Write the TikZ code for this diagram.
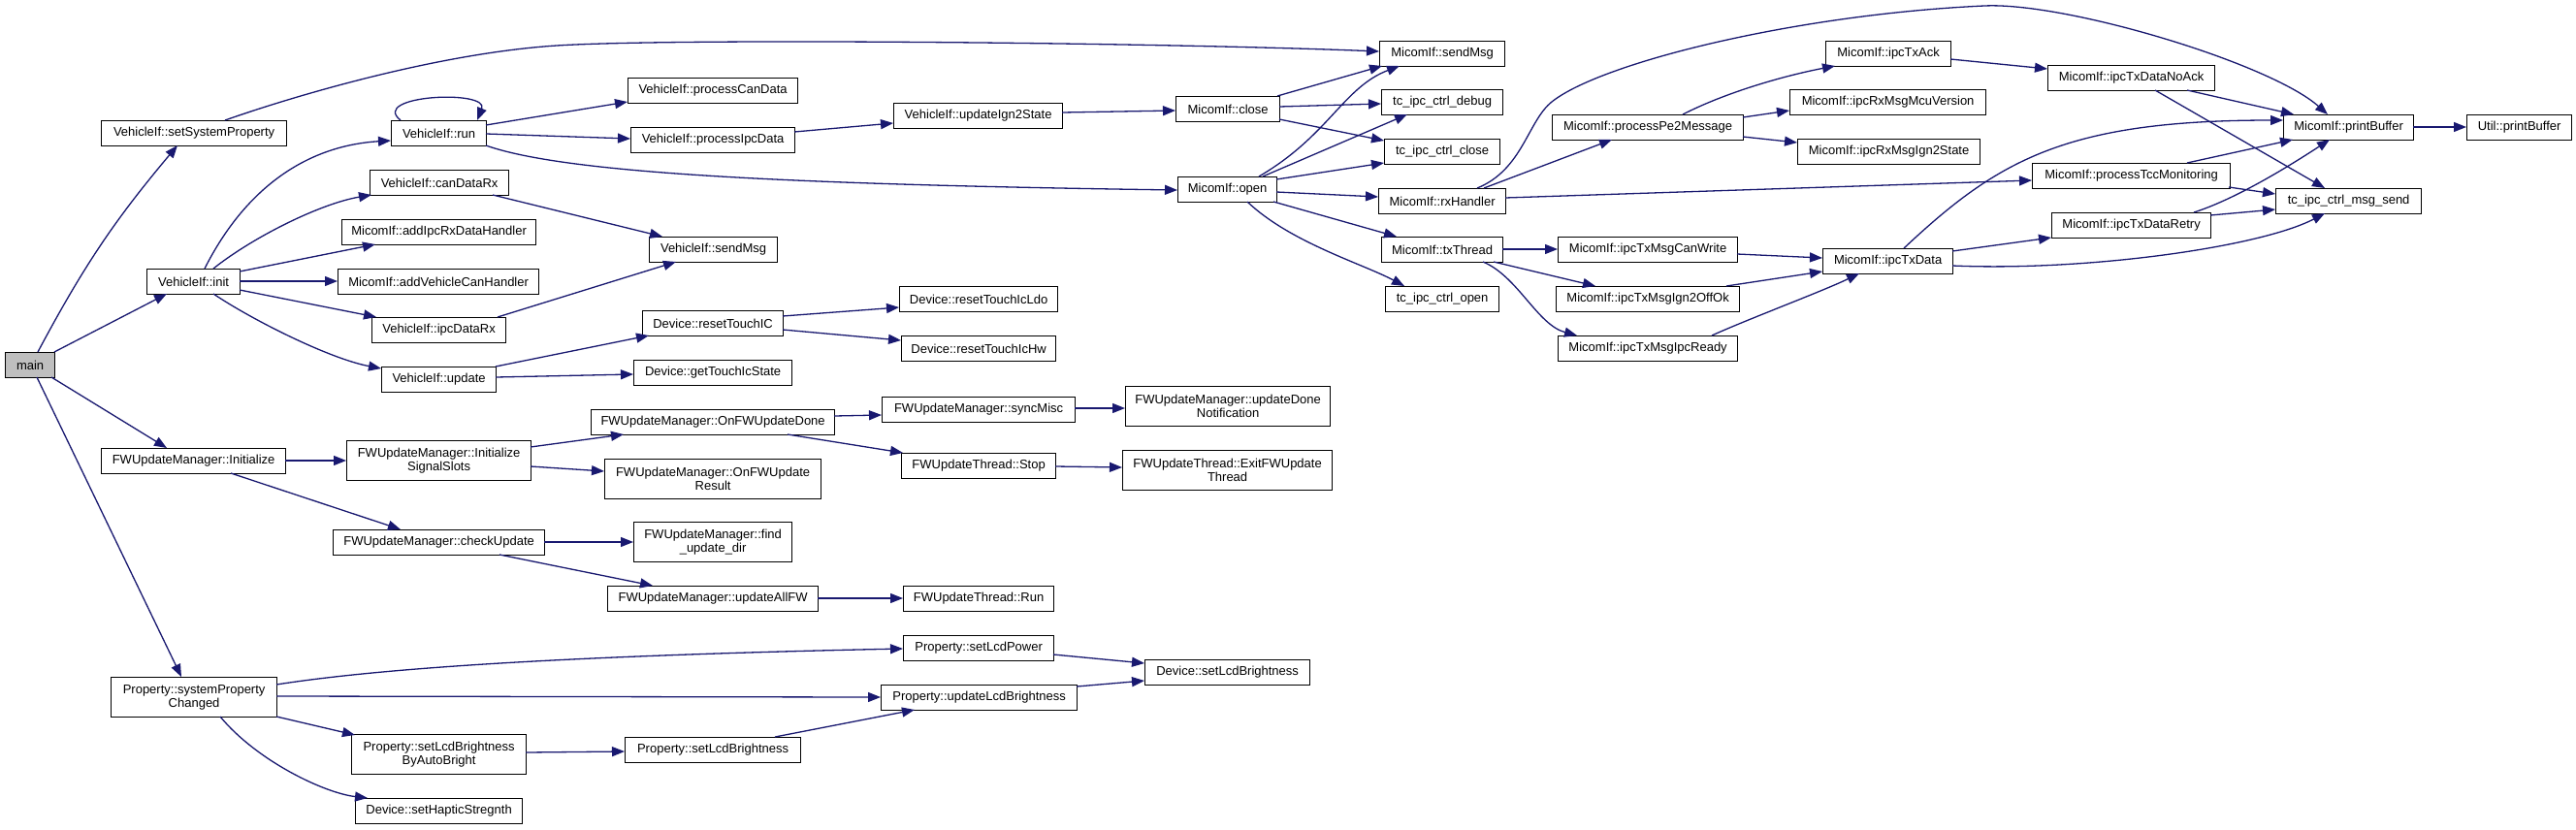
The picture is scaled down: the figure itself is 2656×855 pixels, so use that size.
\documentclass[tikz,border=0pt]{standalone}
\usepackage{fontspec}
\setmainfont{Liberation Sans}
\usetikzlibrary{arrows.meta,calc}
\definecolor{edgeblue}{HTML}{191970}
\definecolor{maingray}{HTML}{BFBFBF}
\begin{document}
\begin{tikzpicture}[x=1pt,y=-1pt,
  box/.style={draw=black, line width=1.2pt, fill=white, rectangle, anchor=north west,
    inner sep=0pt, align=center, minimum height=26pt, font=\fontsize{13}{14}\selectfont},
  tall/.style={minimum height=41pt},
  call/.style={draw=edgeblue, line width=1.3pt, -{Triangle[length=13pt,width=10pt]}}]
\path[fill=white, use as bounding box] (0,0) rectangle (2656,855);

% rank 0-1
\node[box,fill=maingray,minimum width=51pt] (main) at (5,363) {main};
\node[box,minimum width=191pt] (setSys) at (104,124) {VehicleIf::setSystemProperty};
\node[box,minimum width=96pt] (init) at (151,277) {VehicleIf::init};
\node[box,minimum width=190pt] (fwInit) at (104,462) {FWUpdateManager::Initialize};
\node[box,tall,minimum width=171pt] (propSPC) at (114,698) {Property::systemProperty\\Changed};
% rank 2
\node[box,minimum width=98pt] (run) at (403,124) {VehicleIf::run};
\node[box,minimum width=143pt] (canDataRx) at (381,175) {VehicleIf::canDataRx};
\node[box,minimum width=200pt] (addIpc) at (352,226) {MicomIf::addIpcRxDataHandler};
\node[box,minimum width=207pt] (addCan) at (348,277) {MicomIf::addVehicleCanHandler};
\node[box,minimum width=138pt] (ipcDataRx) at (383,327) {VehicleIf::ipcDataRx};
\node[box,minimum width=118pt] (update) at (393,378) {VehicleIf::update};
\node[box,tall,minimum width=190pt] (sigSlots) at (357,454) {FWUpdateManager::Initialize\\SignalSlots};
\node[box,minimum width=218pt] (checkUpdate) at (343,546) {FWUpdateManager::checkUpdate};
\node[box,tall,minimum width=180pt] (autoBright) at (362,757) {Property::setLcdBrightness\\ByAutoBright};
\node[box,minimum width=172pt] (haptic) at (366,823) {Device::setHapticStregnth};
% rank 3
\node[box,minimum width=175pt] (procCan) at (647,80) {VehicleIf::processCanData};
\node[box,minimum width=169pt] (procIpc) at (650,131) {VehicleIf::processIpcData};
\node[box,minimum width=132pt] (vSendMsg) at (669,244) {VehicleIf::sendMsg};
\node[box,minimum width=145pt] (resetTouchIC) at (662,320) {Device::resetTouchIC};
\node[box,minimum width=163pt] (getTouch) at (653,371) {Device::getTouchIcState};
\node[box,minimum width=251pt] (onDone) at (609,422) {FWUpdateManager::OnFWUpdateDone};
\node[box,tall,minimum width=223pt] (onResult) at (623,473) {FWUpdateManager::OnFWUpdate\\Result};
\node[box,tall,minimum width=163pt] (findDir) at (653,538) {FWUpdateManager::find\\\_update\_dir};
\node[box,minimum width=217pt] (updateAllFW) at (626,604) {FWUpdateManager::updateAllFW};
\node[box,minimum width=181pt] (propSetLcd) at (644,760) {Property::setLcdBrightness};
% rank 4
\node[box,minimum width=174pt] (updIgn2) at (921,106) {VehicleIf::updateIgn2State};
\node[box,minimum width=163pt] (ldo) at (927,295) {Device::resetTouchIcLdo};
\node[box,minimum width=159pt] (hw) at (929,346) {Device::resetTouchIcHw};
\node[box,minimum width=199pt] (syncMisc) at (909,409) {FWUpdateManager::syncMisc};
\node[box,minimum width=159pt] (stop) at (929,467) {FWUpdateThread::Stop};
\node[box,minimum width=155pt] (fwRun) at (931,604) {FWUpdateThread::Run};
\node[box,minimum width=155pt] (lcdPower) at (931,655) {Property::setLcdPower};
\node[box,minimum width=202pt] (updLcd) at (908,706) {Property::updateLcdBrightness};
% rank 5
\node[box,minimum width=107pt] (close) at (1212,99) {MicomIf::close};
\node[box,minimum width=102pt] (open) at (1214,182) {MicomIf::open};
\node[box,tall,minimum width=211pt] (doneNotif) at (1160,398) {FWUpdateManager::updateDone\\Notification};
\node[box,tall,minimum width=216pt] (exitThread) at (1157,464) {FWUpdateThread::ExitFWUpdate\\Thread};
\node[box,minimum width=170pt] (devSetLcd) at (1180,680) {Device::setLcdBrightness};
% rank 6
\node[box,minimum width=129pt] (mSendMsg) at (1422,42) {MicomIf::sendMsg};
\node[box,minimum width=125pt] (debug) at (1424,92) {tc\_ipc\_ctrl\_debug};
\node[box,minimum width=119pt] (tclose) at (1427,143) {tc\_ipc\_ctrl\_close};
\node[box,minimum width=131pt] (rxHandler) at (1421,194) {MicomIf::rxHandler};
\node[box,minimum width=125pt] (txThread) at (1424,244) {MicomIf::txThread};
\node[box,minimum width=117pt] (topen) at (1428,295) {tc\_ipc\_ctrl\_open};
% rank 7
\node[box,minimum width=197pt] (pe2) at (1600,118) {MicomIf::processPe2Message};
\node[box,minimum width=185pt] (canWrite) at (1606,244) {MicomIf::ipcTxMsgCanWrite};
\node[box,minimum width=189pt] (ign2Off) at (1604,295) {MicomIf::ipcTxMsgIgn2OffOk};
\node[box,minimum width=185pt] (ipcReady) at (1606,346) {MicomIf::ipcTxMsgIpcReady};
% rank 8
\node[box,minimum width=129pt] (txAck) at (1882,42) {MicomIf::ipcTxAck};
\node[box,minimum width=202pt] (mcuVer) at (1845,92) {MicomIf::ipcRxMsgMcuVersion};
\node[box,minimum width=188pt] (rxIgn2) at (1853,143) {MicomIf::ipcRxMsgIgn2State};
\node[box,minimum width=134pt] (txData) at (1879,256) {MicomIf::ipcTxData};
% rank 9
\node[box,minimum width=172pt] (noAck) at (2111,67) {MicomIf::ipcTxDataNoAck};
\node[box,minimum width=204pt] (tcc) at (2095,168) {MicomIf::processTccMonitoring};
\node[box,minimum width=164pt] (retry) at (2115,219) {MicomIf::ipcTxDataRetry};
% rank 10-11
\node[box,minimum width=134pt] (pbuf) at (2354,118) {MicomIf::printBuffer};
\node[box,minimum width=150pt] (msgSend) at (2346,194) {tc\_ipc\_ctrl\_msg\_send};
\node[box,minimum width=108pt] (util) at (2543,118) {Util::printBuffer};

% edges
\draw[call] ($(main.north west)+(34,0)$) to[bend left=6] ($(setSys.north west)+(79,26)$);
\draw[call] ($(main.north west)+(51,0)$) -- ($(init.north west)+(21,26)$);
\draw[call] ($(main.north west)+(48,26)$) -- ($(fwInit.north west)+(68,0)$);
\draw[call] ($(main.north west)+(33,26)$) -- ($(propSPC.north west)+(73,0)$);
\draw[call] ($(setSys.north west)+(128,0)$) .. controls (300,100) and (450,55) .. (574,47) .. controls (700,39) and (1200,44) .. ($(mSendMsg.north west)+(0,11)$);

\draw[call] ($(run.north west)+(10,0)$) .. controls (380,98) and (505,92) .. ($(run.north west)+(89,0)$);
\draw[call] ($(run.north west)+(98,5)$) -- ($(procCan.north west)+(0,25)$);
\draw[call] ($(run.north west)+(98,14)$) -- ($(procIpc.north west)+(0,12)$);
\draw[call] ($(run.north west)+(98,26)$) .. controls (580,178) and (800,190) .. ($(open.north west)+(0,14)$);
\draw[call] ($(procIpc.north west)+(169,5)$) -- ($(updIgn2.north west)+(0,21)$);
\draw[call] ($(updIgn2.north west)+(174,10)$) -- ($(close.north west)+(0,15)$);
\draw[call] ($(close.north west)+(105,0)$) -- ($(mSendMsg.north west)+(3,26)$);
\draw[call] ($(close.north west)+(107,11)$) -- ($(debug.north west)+(0,15)$);
\draw[call] ($(close.north west)+(107,24)$) -- ($(tclose.north west)+(0,2)$);
\draw[call] ($(open.north west)+(84,0)$) .. controls (1370,140) and (1385,90) .. ($(mSendMsg.north west)+(21,26)$);
\draw[call] ($(open.north west)+(88,0)$) -- ($(debug.north west)+(27,26)$);
\draw[call] ($(open.north west)+(102,3)$) -- ($(tclose.north west)+(0,25)$);
\draw[call] ($(open.north west)+(102,16)$) -- ($(rxHandler.north west)+(0,9)$);
\draw[call] ($(open.north west)+(99,26)$) -- ($(txThread.north west)+(16,0)$);
\draw[call] ($(open.north west)+(72,26)$) .. controls (1330,250) and (1405,272) .. ($(topen.north west)+(20,0)$);
\draw[call] ($(rxHandler.north west)+(109,0)$) -- ($(pe2.north west)+(62,26)$);
\draw[call] ($(rxHandler.north west)+(102,0)$) .. controls (1570,175) and (1575,125) .. (1600,105) .. controls (1650,65) and (1850,15) .. (2046,6) .. controls (2130,2) and (2340,65) .. ($(pbuf.north west)+(46,0)$);
\draw[call] ($(rxHandler.north west)+(131,10)$) -- ($(tcc.north west)+(0,18)$);
\draw[call] ($(txThread.north west)+(125,13)$) -- ($(canWrite.north west)+(0,13)$);
\draw[call] ($(txThread.north west)+(116,26)$) -- ($(ign2Off.north west)+(41,0)$);
\draw[call] ($(txThread.north west)+(105,26)$) .. controls (1565,285) and (1585,335) .. ($(ipcReady.north west)+(20,0)$);
\draw[call] ($(pe2.north west)+(135,0)$) .. controls (1780,95) and (1840,78) .. ($(txAck.north west)+(10,26)$);
\draw[call] ($(pe2.north west)+(197,3)$) -- ($(mcuVer.north west)+(0,22)$);
\draw[call] ($(pe2.north west)+(197,23)$) -- ($(rxIgn2.north west)+(0,4)$);
\draw[call] ($(txAck.north west)+(129,19)$) -- ($(noAck.north west)+(0,4)$);
\draw[call] ($(noAck.north west)+(144,26)$) -- ($(pbuf.north west)+(11,0)$);
\draw[call] ($(noAck.north west)+(111,26)$) -- ($(msgSend.north west)+(51,0)$);
\draw[call] ($(txData.north west)+(84,0)$) .. controls (2060,165) and (2130,124) .. ($(pbuf.north west)+(0,6)$);
\draw[call] ($(tcc.north west)+(160,0)$) -- ($(pbuf.north west)+(10,26)$);
\draw[call] ($(tcc.north west)+(203,25)$) -- ($(msgSend.north west)+(0,6)$);
\draw[call] ($(retry.north west)+(147,0)$) .. controls (2300,207) and (2350,178) .. ($(pbuf.north west)+(48,26)$);
\draw[call] ($(retry.north west)+(164,3)$) -- ($(msgSend.north west)+(0,22)$);
\draw[call] ($(txData.north west)+(134,3)$) -- ($(retry.north west)+(0,26)$);
\draw[call] ($(txData.north west)+(134,18)$) .. controls (2150,280) and (2330,255) .. ($(msgSend.north west)+(51,26)$);
\draw[call] ($(canWrite.north west)+(185,18)$) -- ($(txData.north west)+(0,10)$);
\draw[call] ($(ign2Off.north west)+(176,0)$) -- ($(txData.north west)+(0,24)$);
\draw[call] ($(ipcReady.north west)+(159,0)$) .. controls (1800,330) and (1880,300) .. ($(txData.north west)+(38,26)$);
\draw[call] ($(pbuf.north west)+(134,13)$) -- ($(util.north west)+(0,13)$);

\draw[call] ($(init.north west)+(60,0)$) .. controls (255,190) and (320,150) .. ($(run.north west)+(0,21)$);
\draw[call] ($(init.north west)+(69,0)$) .. controls (260,245) and (330,210) .. ($(canDataRx.north west)+(2,26)$);
\draw[call] ($(init.north west)+(96,3)$) -- ($(addIpc.north west)+(35,26)$);
\draw[call] ($(init.north west)+(96,13)$) -- ($(addCan.north west)+(0,13)$);
\draw[call] ($(init.north west)+(96,22)$) -- ($(ipcDataRx.north west)+(5,0)$);
\draw[call] ($(init.north west)+(69,26)$) .. controls (260,330) and (340,370) .. ($(update.north west)+(0,2)$);
\draw[call] ($(canDataRx.north west)+(127,26)$) -- ($(vSendMsg.north west)+(14,0)$);
\draw[call] ($(ipcDataRx.north west)+(130,0)$) -- ($(vSendMsg.north west)+(28,26)$);
\draw[call] ($(update.north west)+(118,0)$) -- ($(resetTouchIC.north west)+(7,26)$);
\draw[call] ($(update.north west)+(118,11)$) -- ($(getTouch.north west)+(0,15)$);
\draw[call] ($(resetTouchIC.north west)+(145,6)$) -- ($(ldo.north west)+(0,22)$);
\draw[call] ($(resetTouchIC.north west)+(145,20)$) -- ($(hw.north west)+(0,5)$);

\draw[call] ($(fwInit.north west)+(190,13)$) -- ($(sigSlots.north west)+(0,21)$);
\draw[call] ($(fwInit.north west)+(134,26)$) -- ($(checkUpdate.north west)+(70,0)$);
\draw[call] ($(sigSlots.north west)+(190,7)$) -- ($(onDone.north west)+(34,26)$);
\draw[call] ($(sigSlots.north west)+(190,27)$) -- ($(onResult.north west)+(0,13)$);
\draw[call] ($(onDone.north west)+(251,7)$) -- ($(syncMisc.north west)+(0,19)$);
\draw[call] ($(onDone.north west)+(203,26)$) -- ($(stop.north west)+(2,0)$);
\draw[call] ($(syncMisc.north west)+(199,12)$) -- ($(doneNotif.north west)+(0,23)$);
\draw[call] ($(stop.north west)+(159,14)$) -- ($(exitThread.north west)+(0,18)$);
\draw[call] ($(checkUpdate.north west)+(218,13)$) -- ($(findDir.north west)+(0,21)$);
\draw[call] ($(checkUpdate.north west)+(172,26)$) -- ($(updateAllFW.north west)+(47,0)$);
\draw[call] ($(updateAllFW.north west)+(217,13)$) -- ($(fwRun.north west)+(0,13)$);

\draw[call] ($(propSPC.north west)+(171,8)$) .. controls (400,688) and (600,676) .. ($(lcdPower.north west)+(0,14)$);
\draw[call] ($(propSPC.north west)+(171,20)$) -- ($(updLcd.north west)+(0,13)$);
\draw[call] ($(propSPC.north west)+(171,41)$) -- ($(autoBright.north west)+(4,1)$);
\draw[call] ($(propSPC.north west)+(113,41)$) .. controls (265,785) and (335,818) .. ($(haptic.north west)+(13,0)$);
\draw[call] ($(autoBright.north west)+(180,19)$) -- ($(propSetLcd.north west)+(0,15)$);
\draw[call] ($(propSetLcd.north west)+(155,0)$) -- ($(updLcd.north west)+(35,26)$);
\draw[call] ($(lcdPower.north west)+(155,20)$) -- ($(devSetLcd.north west)+(0,4)$);
\draw[call] ($(updLcd.north west)+(202,2)$) -- ($(devSetLcd.north west)+(0,22)$);
\end{tikzpicture}
\end{document}
